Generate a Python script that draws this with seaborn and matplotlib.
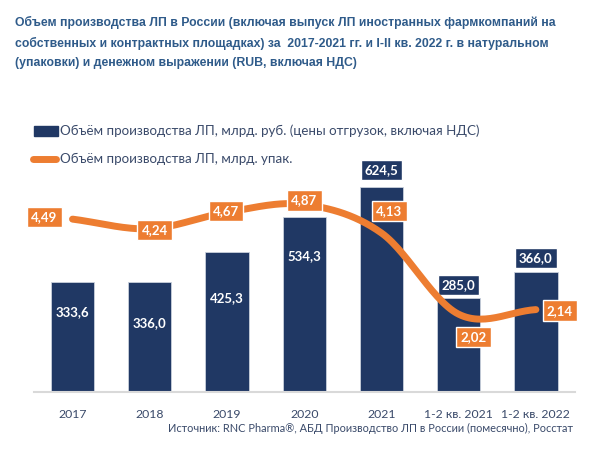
import numpy as np
import pandas as pd
import matplotlib
matplotlib.use('Agg')
import matplotlib.pyplot as plt
import seaborn as sns

categories = ['2017', '2018', '2019', '2020', '2021', '1-2 кв. 2021', '1-2 кв. 2022']
value_rub = [333.6, 336.0, 425.3, 534.3, 624.5, 285.0, 366.0]
value_pack = [4.49, 4.24, 4.67, 4.87, 4.13, 2.02, 2.14]

title = ('Объем производства ЛП в России (включая выпуск ЛП иностранных фармкомпаний на\n'
         'собственных и контрактных площадках) за  2017-2021 гг. и I-II кв. 2022 г. в натуральном\n'
         '(упаковки) и денежном выражении (RUB, включая НДС)')
legend_bar = 'Объём производства ЛП, млрд. руб. (цены отгрузок, включая НДС)'
legend_line = 'Объём производства ЛП, млрд. упак.'
source = 'Источник: RNC Pharma®, АБД Производство ЛП в России (помесячно), Росстат'

NAVY = '#203864'
ORANGE = '#ed7d31'
TXT = '#3a4a6a'

sns.set_theme(style='white')
plt.rcParams['font.family'] = ['Lato', 'DejaVu Sans']

df = pd.DataFrame({'cat': categories, 'rub': value_rub, 'pack': value_pack})

fig = plt.figure(figsize=(6, 4.49), dpi=100)
ax = fig.add_axes([0.0565, 0.127, 0.901, 0.517])
sns.barplot(data=df, x='cat', y='rub', color=NAVY, width=0.56, saturation=1,
            edgecolor='#c9d0dc', linewidth=0.6, ax=ax)
ax.set_xlim(-0.5, 6.5)
ax.set_ylim(0, 707)
ax.set_xlabel('')
ax.set_ylabel('')
ax.set_yticks([])
for s in ['top', 'right', 'left']:
    ax.spines[s].set_visible(False)
ax.spines['bottom'].set_color('#d9d9d9')
ax.spines['bottom'].set_linewidth(1.5)
ax.tick_params(axis='x', length=0, pad=12, labelsize=8.8, labelcolor=TXT)

# bar value labels: first four inside the bar, last three in a box above
bar_offsets = [-30, -41, -46, -40, 17, 13, 14]
for i, v in enumerate(value_rub):
    lab = f'{v:.1f}'.replace('.', ',')
    if i < 4:
        ax.annotate(lab, (i, v), xytext=(0, bar_offsets[i]), textcoords='offset pixels',
                    ha='center', va='center', color='white', fontsize=9.5, fontweight='bold')
    else:
        ax.annotate(lab, (i, v), xytext=(0, bar_offsets[i]), textcoords='offset pixels',
                    ha='center', va='center', color='white', fontsize=9.5, fontweight='bold',
                    bbox=dict(boxstyle='square,pad=0.3', fc=NAVY, ec='white', lw=1),
                    annotation_clip=False)

# smoothed line on a second axis (Catmull-Rom through the points)
ax2 = ax.twinx()
ax2.set_ylim(0, 6.03)
ax2.set_yticks([])
for s in ax2.spines.values():
    s.set_visible(False)
xp = np.arange(len(value_pack), dtype=float)
yp = np.array(value_pack)
px = np.concatenate([[2 * xp[0] - xp[1]], xp, [2 * xp[-1] - xp[-2]]])
py = np.concatenate([[2 * yp[0] - yp[1]], yp, [2 * yp[-1] - yp[-2]]])
sx, sy = [], []
t = np.linspace(0, 1, 30)
for k in range(1, len(px) - 2):
    for arr, out in ((px, sx), (py, sy)):
        p0, p1, p2, p3 = arr[k - 1], arr[k], arr[k + 1], arr[k + 2]
        out.extend(0.5 * (2 * p1 + (-p0 + p2) * t + (2 * p0 - 5 * p1 + 4 * p2 - p3) * t ** 2
                          + (-p0 + 3 * p1 - 3 * p2 + p3) * t ** 3))
sns.lineplot(x=sx, y=sy, sort=False, color=ORANGE, linewidth=5, ax=ax2,
             solid_capstyle='round')

line_offsets = [(-28, 2), (5, -1), (-1, 1), (0, 4), (8, 22), (15, -23), (24, -1)]
for i, v in enumerate(value_pack):
    ax2.annotate(f'{v:.2f}'.replace('.', ','), (i, v), xytext=line_offsets[i],
                 textcoords='offset pixels', ha='center', va='center', color='white',
                 fontsize=9.5, fontweight='bold',
                 bbox=dict(boxstyle='square,pad=0.32', fc=ORANGE, ec='white', lw=1),
                 annotation_clip=False)

# title, legend, source
fig.text(0.025, 0.965, title, ha='left', va='top', fontsize=8.8, fontweight='bold',
         color='#2f5b8a', family=['Liberation Sans', 'DejaVu Sans'], linespacing=1.8)

fig.patches.append(plt.Rectangle((34 / 600, 1 - 136 / 449), 24 / 600, 10 / 449,
                                 transform=fig.transFigure, color=NAVY))
fig.text(60 / 600, 1 - 131 / 449, legend_bar, ha='left', va='center', fontsize=9.6, color=TXT)
fig.lines.append(plt.Line2D([33 / 600, 56 / 600], [1 - 159 / 449, 1 - 159 / 449],
                            transform=fig.transFigure, color=ORANGE, lw=5,
                            solid_capstyle='round'))
fig.text(60 / 600, 1 - 159 / 449, legend_line, ha='left', va='center', fontsize=9.6, color=TXT)

fig.text(573 / 600, 1 - 428 / 449, source, ha='right', va='center', fontsize=7.9, color=TXT)

fig.savefig('out.png', dpi=100)
